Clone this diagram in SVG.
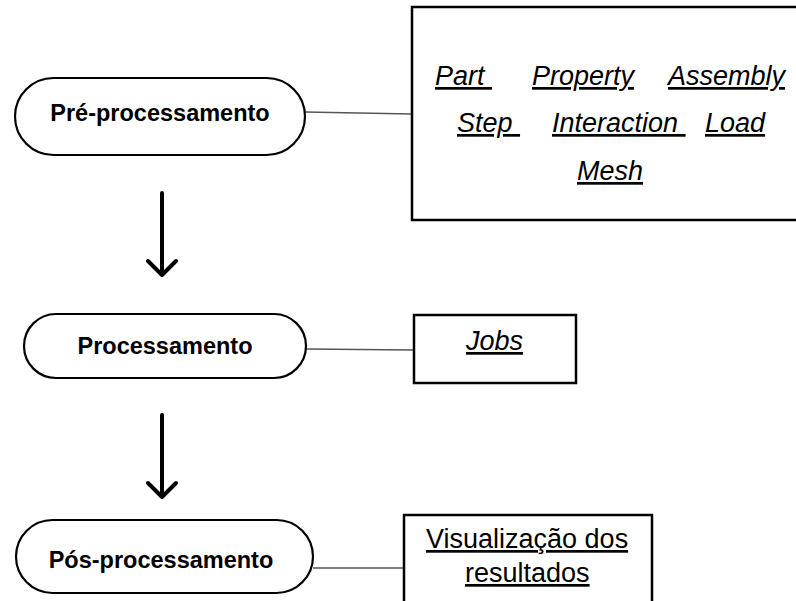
<svg xmlns="http://www.w3.org/2000/svg" width="796" height="601" viewBox="0 0 796 601">
<defs>
<style>
.node{fill:#fff;stroke:#000;stroke-width:2.2}
.box{fill:#fff;stroke:#000;stroke-width:2.5}
.lbl{font-family:"Liberation Sans",Arial,sans-serif;font-weight:bold;font-size:23.5px;fill:#000;text-anchor:middle}
.it{font-family:"Liberation Sans",Arial,sans-serif;font-style:italic;font-size:27px;fill:#000;text-decoration:underline;white-space:pre}
.rg{font-family:"Liberation Sans",Arial,sans-serif;font-size:27px;fill:#000;text-decoration:underline;white-space:pre}
.link{stroke:#555;stroke-width:1.3;fill:none}
.flow{stroke:#000;stroke-width:4;fill:none;stroke-linecap:round;stroke-linejoin:round}
</style>
</defs>
<rect width="796" height="601" fill="#fff"/>
<g id="connectors">
<line class="link" x1="305" y1="112" x2="412" y2="114"/>
<line class="link" x1="306" y1="349" x2="414" y2="350"/>
<line class="link" x1="313" y1="568" x2="404" y2="568"/>
<path class="flow" d="M162 193 V274 M148 261 L162 275 L176 261"/>
<path class="flow" d="M162 415 V496 M148 483 L162 497 L176 483"/>
</g>
<g id="pre">
<rect class="node" x="15" y="78" width="290" height="77" rx="38.5"/>
<text class="lbl" x="160" y="121">Pré-processamento</text>
</g>
<g id="proc">
<rect class="node" x="24" y="314" width="282" height="64" rx="32"/>
<text class="lbl" x="165" y="354">Processamento</text>
</g>
<g id="pos">
<rect class="node" x="16" y="520" width="297" height="73" rx="36.5"/>
<text class="lbl" x="161" y="568">Pós-processamento</text>
</g>
<g id="modules">
<rect class="box" x="412" y="7" width="400" height="213"/>
<text class="it" x="435" y="85" xml:space="preserve">Part </text>
<text class="it" x="532" y="85">Property</text>
<text class="it" x="668" y="85">Assembly</text>
<text class="it" x="457" y="132" xml:space="preserve">Step </text>
<text class="it" x="552" y="132" xml:space="preserve">Interaction </text>
<text class="it" x="705" y="132">Load</text>
<text class="it" x="577" y="180">Mesh</text>
</g>
<g id="jobs">
<rect class="box" x="414" y="315" width="162" height="68"/>
<text class="it" x="466" y="350">Jobs</text>
</g>
<g id="results">
<rect class="box" x="404" y="515" width="248" height="100"/>
<text class="rg" x="426" y="548">Visualização dos</text>
<text class="rg" x="465" y="582">resultados</text>
</g>
</svg>
